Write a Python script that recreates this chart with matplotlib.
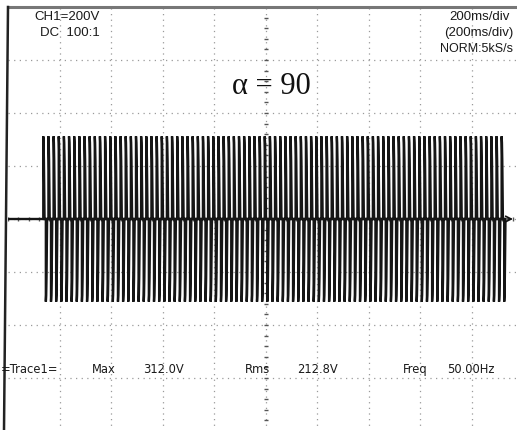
import numpy as np
import matplotlib.pyplot as plt
from matplotlib.lines import Line2D

# scope settings
volts_per_div = 200
sec_per_div = 0.2
freq = 50.0
t_start = 0.132      # s, where the chopped sine starts
t_end = 1.93         # s, where it stops

# one mains cycle with alpha = 90 deg (degrees, volts)
cycle_deg = [0, 90, 90, 112, 135, 158, 180, 270, 270, 292, 315, 338, 360]
cycle_volt = [0, 0, 312, 288, 221, 117, 0, 0, -312, -288, -221, -117, 0]

top_left = ["CH1=200V", "DC  100:1"]
top_right = ["200ms/div", "(200ms/div)", "NORM:5kS/s"]
bottom_labels = ["=Trace1=", "Max", "312.0V", "Rms", "212.8V", "Freq", "50.00Hz"]

W, H = 517, 431
fig = plt.figure(figsize=(W / 100, H / 100), dpi=100)
fig.patch.set_facecolor('white')

def fx(px):
    return px / W

def fy(py):
    return 1 - py / H

ax = fig.add_axes([fx(8), fy(432), 515 / W, 424 / H])
ax.set_xlim(0, 10 * sec_per_div)
ax.set_ylim(-4 * volts_per_div, 4 * volts_per_div)

# dotted graticule
for i in range(1, 10):
    ax.axvline(i * sec_per_div, color='#9a9a9a', lw=0.9, dashes=(1, 3.5), zorder=1)
for j in range(-3, 4):
    ax.axhline(j * volts_per_div, color='#9a9a9a', lw=0.9, dashes=(1, 3.5), zorder=1)

# minor ticks on the centre lines
yt = np.arange(-4 * volts_per_div, 4 * volts_per_div + 1, volts_per_div / 5)
ax.plot(np.full(len(yt), 5 * sec_per_div), yt, ls='none', marker='_',
        ms=3.5, mew=1.0, color='#555', zorder=2)
xt = np.arange(0, 10 * sec_per_div + 0.001, sec_per_div / 5)
ax.plot(xt, np.zeros(len(xt)), ls='none', marker='|',
        ms=3, mew=1.0, color='#555', zorder=2)

# trace: flat before start, then chopped cycles
n_cycles = int(round((t_end - t_start) * freq))
deg = np.array(cycle_deg, dtype=float)
volt = np.array(cycle_volt, dtype=float)
tt = [np.array([0.0])]
vv = [np.array([0.0])]
for k in range(n_cycles):
    tt.append(t_start + (k + deg / 360.0) / freq)
    vv.append(volt)
t = np.concatenate(tt)
v = np.concatenate(vv)
ax.plot(t, v, color='#151515', lw=1.7, zorder=3, solid_joinstyle='miter')

# ground marker on the right
ax.annotate('', xy=(1.972, 0), xytext=(1.93, 0),
            arrowprops=dict(arrowstyle='->', color='#111', lw=1.2), zorder=4)

ax.set_xticks([])
ax.set_yticks([])
ax.spines['right'].set_visible(False)
ax.spines['bottom'].set_visible(False)
ax.spines['left'].set_visible(False)
ax.spines['top'].set_color('#777')
ax.spines['top'].set_linewidth(2.2)

# left frame edge (slightly skewed in the scan)
fig.add_artist(Line2D([fx(8), fx(4)], [fy(8), fy(431)], color='#222', lw=1.8))

txt = dict(color='#1a1a1a', family='Liberation Sans')
fig.text(fx(100), fy(17), top_left[0], ha='right', va='center', fontsize=9.5, **txt)
fig.text(fx(100), fy(33), top_left[1], ha='right', va='center', fontsize=9.5, **txt)
fig.text(fx(510), fy(17), top_right[0], ha='right', va='center', fontsize=9.5, **txt)
fig.text(fx(513), fy(33), top_right[1], ha='right', va='center', fontsize=9.5, **txt)
fig.text(fx(513), fy(49), top_right[2], ha='right', va='center', fontsize=9, **txt)

fig.text(fx(271), fy(86), 'α = 90', ha='center', va='center', fontsize=22,
         family='Liberation Serif', color='#111')

bx = [1, 92, 143, 245, 297, 403, 447]
for x0, s in zip(bx, bottom_labels):
    fig.text(fx(x0), fy(370), s, ha='left', va='center', fontsize=8.3,
             family='DejaVu Sans', color='#1a1a1a')

fig.savefig('out.png', dpi=100, facecolor='white')
